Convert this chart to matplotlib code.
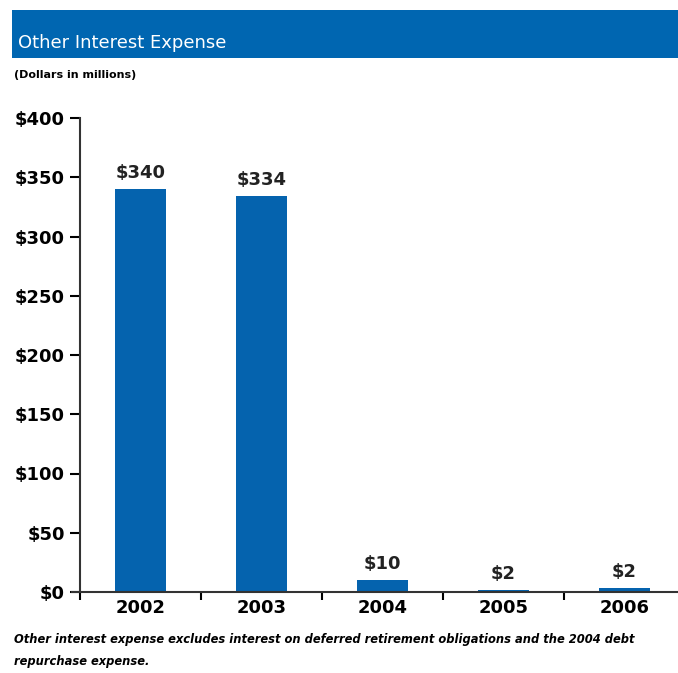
import matplotlib
matplotlib.use("Agg")
import matplotlib.pyplot as plt
from matplotlib.patches import Rectangle

years = ["2002", "2003", "2004", "2005", "2006"]
values = [340, 334, 10, 2, 3]
value_labels = ["$340", "$334", "$10", "$2", "$2"]
yticks = [0, 50, 100, 150, 200, 250, 300, 350, 400]
ytick_labels = ["$0", "$50", "$100", "$150", "$200", "$250", "$300", "$350", "$400"]

plt.rcParams["font.family"] = ["DejaVu Sans"]
BLUE = "#0563AE"

fig = plt.figure(figsize=(6.78, 6.73), dpi=100)
W, H = 678, 673

# banner
fig.patches.append(Rectangle((12 / W, 1 - 58 / H), 1 - 12 / W, 48 / H,
                             transform=fig.transFigure, facecolor="#0066B1",
                             edgecolor="none", zorder=0))
fig.text(18 / W, 1 - 43 / H, "Other Interest Expense", color="white",
         fontsize=13, va="center", ha="left")
fig.text(14 / W, 1 - 75 / H, "(Dollars in millions)", color="black",
         fontsize=8, fontweight="bold", va="center", ha="left")

ax = fig.add_axes([72 / W, 1 - 592 / H, 1 - 72 / W, (592 - 118) / H])
x = list(range(len(years)))
ax.bar(x, values, width=0.42, color=BLUE, zorder=2)
for xi, v, lab in zip(x, values, value_labels):
    ax.text(xi, v + 6, lab, ha="center", va="bottom", fontsize=13,
            fontweight="bold", color="#222222")

ax.set_ylim(0, 400)
ax.set_xlim(-0.566, 4.442)
ax.spines["left"].set_position(("data", -0.5))
ax.set_yticks(yticks)
ax.set_yticklabels(ytick_labels, fontsize=13, fontweight="bold")
ax.set_xticks(x)
ax.set_xticklabels(years, fontsize=13, fontweight="bold")
ax.set_xticks([i + 0.5 for i in range(-1, 4)], minor=True)
ax.tick_params(axis="x", which="major", length=0, pad=5)
ax.tick_params(axis="x", which="minor", length=6, direction="out", width=1.5)
ax.tick_params(axis="y", length=7, direction="out", width=1.5, pad=4)
for s in ["top", "right"]:
    ax.spines[s].set_visible(False)
ax.spines["left"].set_linewidth(1.5)
ax.spines["bottom"].set_linewidth(1.5)
ax.spines["bottom"].set_color("#333333")
ax.spines["left"].set_color("#333333")

fig.text(14 / W, 1 - 639 / H,
         "Other interest expense excludes interest on deferred retirement obligations and the 2004 debt",
         fontsize=8.3, fontweight="bold", fontstyle="italic", va="center", ha="left")
fig.text(14 / W, 1 - 661 / H, "repurchase expense.",
         fontsize=8.3, fontweight="bold", fontstyle="italic", va="center", ha="left")

fig.savefig("out.png", dpi=100)
